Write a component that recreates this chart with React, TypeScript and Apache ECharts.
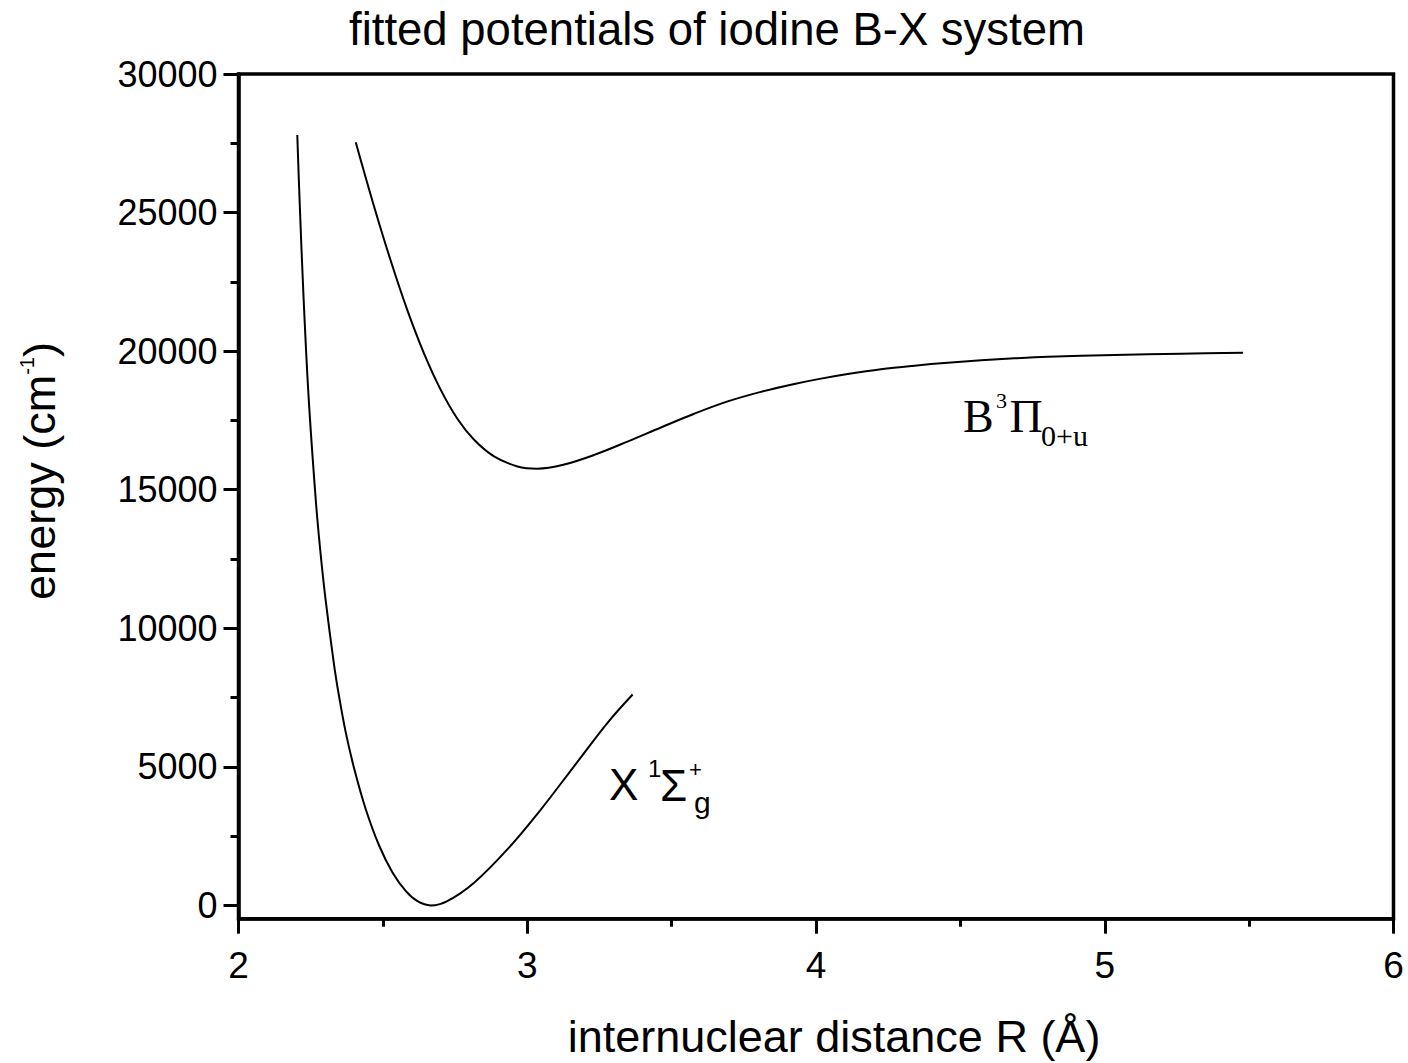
import React, { useEffect, useRef } from "react";
import * as echarts from "echarts";

// X 1Σg+ ground state potential: internuclear distance (Å) and energy (cm-1)
const xStateR = [2.2036, 2.2116, 2.2255, 2.2428, 2.267, 2.2826, 2.3016, 2.3307, 2.348, 2.3709, 2.4003, 2.4405, 2.4866, 2.5333, 2.5797, 2.62, 2.666, 2.723, 2.816, 2.931, 3.047, 3.162, 3.278, 3.365];
const xStateE = [27800, 25430, 21890, 18340, 14710, 12870, 11030, 8700, 7560, 6270, 4950, 3480, 2170, 1190, 515, 150, 0, 155, 820, 2020, 3460, 5020, 6590, 7610];

// B 3Π0+u excited state potential
const bStateR = [2.406, 2.469, 2.527, 2.585, 2.642, 2.7, 2.758, 2.816, 2.885, 2.966, 3.035, 3.125, 3.232, 3.347, 3.463, 3.578, 3.694, 3.809, 3.925, 4.017, 4.11, 4.225, 4.341, 4.456, 4.572, 4.687, 4.803, 5.034, 5.265, 5.479];
const bStateE = [27540, 25240, 23270, 21470, 19930, 18610, 17560, 16800, 16200, 15840, 15760, 15900, 16255, 16735, 17245, 17740, 18186, 18531, 18815, 19008, 19175, 19348, 19476, 19582, 19670, 19739, 19795, 19864, 19910, 19942];

const yMajorTicks = [0, 5000, 10000, 15000, 20000, 25000, 30000];
const yMinorTicks = [2500, 7500, 12500, 17500, 22500, 27500];
const xMinorTicks = [2.5, 3.5, 4.5, 5.5];

const SANS = '"Liberation Sans", Arial, Helvetica, sans-serif';
const SERIF = '"Liberation Serif", "Times New Roman", serif';

const zip = (a: number[], b: number[]) => a.map((v, i) => [v, b[i]]);

export default function App() {
  const ref = useRef<HTMLDivElement>(null);
  useEffect(() => {
    if (!ref.current) return;
    const chart = echarts.init(ref.current, undefined, { renderer: "svg" });
    const axisColor = "#000";
    const txt = (x: number, y: number, text: string, size: number, family: string, extra: any = {}) => ({
      type: "text",
      x,
      y,
      style: {
        text,
        fontSize: size,
        fontFamily: family,
        fill: "#000",
        textAlign: extra.align || "left",
        textVerticalAlign: "middle",
        verticalAlign: "middle",
        align: extra.align || "left",
      },
    });
    chart.setOption({
      animation: false,
      backgroundColor: "#fff",
      grid: {
        left: 238.5,
        right: 14.5,
        top: 74,
        bottom: 144.3,
        show: true,
        borderColor: "#000",
        borderWidth: 3.5,
        containLabel: false,
      },
      xAxis: [
        {
          type: "value",
          min: 2,
          max: 6,
          interval: 1,
          position: "bottom",
          axisLine: { show: true, onZero: false, lineStyle: { color: axisColor, width: 3.5 } },
          axisTick: { show: true, length: 15, lineStyle: { color: axisColor, width: 3 } },
          axisLabel: { fontSize: 37, fontFamily: SANS, color: "#000", margin: 28 },
          splitLine: { show: false },
        },
        {
          type: "value",
          min: 2,
          max: 6,
          position: "bottom",
          axisLine: { show: false, onZero: false },
          axisTick: { show: true, customValues: xMinorTicks, length: 8, lineStyle: { color: axisColor, width: 3 } },
          axisLabel: { show: false },
          splitLine: { show: false },
        },
      ],
      yAxis: [
        {
          type: "value",
          min: -480,
          max: 30000,
          position: "left",
          axisLine: { show: true, onZero: false, lineStyle: { color: axisColor, width: 3.5 } },
          axisTick: { show: true, customValues: yMajorTicks, length: 15, lineStyle: { color: axisColor, width: 3 } },
          axisLabel: {
            customValues: yMajorTicks,
            fontSize: 36,
            fontFamily: SANS,
            color: "#000",
            margin: 21,
            formatter: (v: number) => String(v),
          },
          splitLine: { show: false },
        },
        {
          type: "value",
          min: -480,
          max: 30000,
          position: "left",
          axisLine: { show: false, onZero: false },
          axisTick: { show: true, customValues: yMinorTicks, length: 8, lineStyle: { color: axisColor, width: 3 } },
          axisLabel: { show: false },
          splitLine: { show: false },
        },
      ],
      series: [
        {
          name: "X",
          type: "line",
          xAxisIndex: 0,
          yAxisIndex: 0,
          data: zip(xStateR, xStateE),
          showSymbol: false,
          smooth: 0.35,
          lineStyle: { color: "#000", width: 2 },
        },
        {
          name: "B",
          type: "line",
          xAxisIndex: 0,
          yAxisIndex: 0,
          data: zip(bStateR, bStateE),
          showSymbol: false,
          smooth: 0.35,
          lineStyle: { color: "#000", width: 2 },
        },
      ],
      graphic: [
        txt(717, 29.5, "fitted potentials of iodine B-X system", 45.5, SANS, { align: "center" }),
        txt(834, 1036.5, "internuclear distance R (Å)", 45, SANS, { align: "center" }),
        {
          type: "text",
          x: 39.5,
          y: 471,
          rotation: Math.PI / 2,
          style: {
            text: "{a|energy (cm}{s|-1}{a|)}",
            fill: "#000",
            align: "center",
            verticalAlign: "middle",
            rich: {
              a: { fontSize: 45, fontFamily: SANS, lineHeight: 46, fill: "#000", color: "#000" },
              s: { fontSize: 20, fontFamily: SANS, lineHeight: 12, verticalAlign: "top", fill: "#000", color: "#000" },
            },
          },
        },
        // B 3Π0+u label
        txt(963, 416.5, "B", 46, SERIF),
        txt(996, 400, "3", 22, SERIF),
        txt(1009.5, 416.5, "Π", 46, SERIF),
        txt(1041, 435, "0+u", 30, SERIF),
        // X 1Σg+ label
        txt(609, 784.8, "X", 44, SANS),
        txt(648, 768, "1", 24, SANS),
        txt(660, 785, "Σ", 44, SANS),
        txt(689, 769, "+", 22, SANS),
        txt(694, 802, "g", 30, SANS),
      ],
    });
    return () => chart.dispose();
  }, []);
  return (
    <div
      ref={ref}
      style={{ position: "fixed", left: 0, top: 0, width: 1408, height: 1063, background: "#fff" }}
    />
  );
}
